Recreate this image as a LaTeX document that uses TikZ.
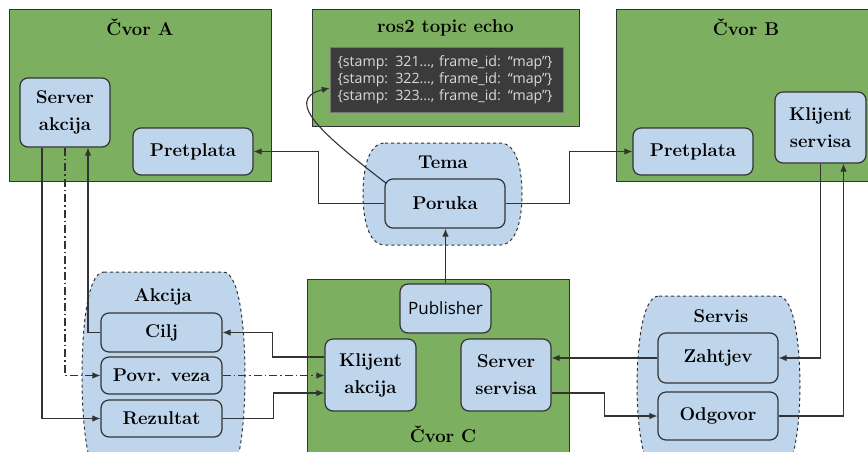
\documentclass[tikz,border=0pt]{standalone}
\usepackage{fontspec}
\newfontfamily\sansf{Open Sans}
\usetikzlibrary{arrows.meta,calc}
\definecolor{nodegreen}{HTML}{7DAF60}
\definecolor{boxblue}{HTML}{BED5EC}
\definecolor{edgecol}{HTML}{333333}
\definecolor{darkbg}{HTML}{3B3B3B}
\definecolor{lighttxt}{HTML}{D9D9D9}
\newcommand\boldf{\fontsize{18.5}{27}\selectfont\bfseries}
\newcommand\barrelshape[5]{% l t r b c
  \fill[boxblue] (#1+22,#2) -- (#3-22,#2) .. controls (#3-4,#2) and (#3,#2+#5) .. (#3,{(#2+#4)/2}) .. controls (#3,#4-#5) and (#3-4,#4) .. (#3-22,#4) -- (#1+22,#4) .. controls (#1+4,#4) and (#1,#4-#5) .. (#1,{(#2+#4)/2}) .. controls (#1,#2+#5) and (#1+4,#2) .. cycle;
  \draw[groupline] (#1+22,#2) -- (#3-22,#2) .. controls (#3-4,#2) and (#3,#2+#5) .. (#3,{(#2+#4)/2}) .. controls (#3,#4-#5) and (#3-4,#4) .. (#3-22,#4) -- (#1+22,#4) .. controls (#1+4,#4) and (#1,#4-#5) .. (#1,{(#2+#4)/2}) .. controls (#1,#2+#5) and (#1+4,#2) .. cycle;}
\begin{document}
\begin{tikzpicture}[x=1pt,y=-1pt,
  container/.style={draw=edgecol, fill=nodegreen, line width=0.9pt, inner sep=0pt},
  part/.style={draw=edgecol, fill=boxblue, rounded corners=8pt, line width=1.2pt, align=center, font=\boldf, inner sep=0pt},
  ttl/.style={anchor=base, font=\boldf, inner sep=0pt},
  groupline/.style={draw=edgecol, dashed, line width=1pt},
  conn/.style={draw=edgecol, line width=1.1pt, -{Latex[length=8pt,width=6.5pt]}},
  dashdotline/.style={dash pattern=on 8pt off 3pt on 1.5pt off 3pt}]
\useasboundingbox (0,0) rectangle (868,451);
\clip (0,0) rectangle (868,451);
\fill[white] (0,0) rectangle (868,451);

% containers
\node[container, minimum width=262pt, minimum height=172pt] (cA) at (140,95) {};
\node[container, minimum width=267pt, minimum height=117pt] (cE) at (445.5,67.5) {};
\node[container, minimum width=256pt, minimum height=172pt] (cB) at (744,95) {};
\node[container, minimum width=262pt, minimum height=191pt] (cC) at (438,374.5) {};

\node[ttl] (tA) at (140,35) {Čvor A};
\node[ttl] (tE) at (445.5,32) {ros2 topic echo};
\node[ttl] (tB) at (746,35) {Čvor B};
\node[ttl] (tC) at (443,442) {Čvor C};

% groups
\barrelshape{363}{143}{522}{245}{30}
\barrelshape{82}{272}{245}{480}{65}
\barrelshape{637}{296}{800}{474}{58}
\node[ttl] (tT) at (443,168) {Tema};
\node[ttl] (tAk) at (163,301) {Akcija};
\node[ttl] (tS) at (721,322) {Servis};

% echo box
\node[fill=darkbg, draw=darkbg!70, minimum width=233pt, minimum height=65pt, inner sep=0pt,
  text width=218pt, align=left, text=lighttxt, font=\sansf\fontsize{14.2}{17}\selectfont] (dark) at (446.5,79.5)
  {\{stamp: 321…, frame\_id: “map”\}\\\{stamp: 322…, frame\_id: “map”\}\\\{stamp: 323…, frame\_id: “map”\}};

% parts
\node[part, minimum width=90pt, minimum height=69pt] (sa) at (65,112.5) {Server\\akcija};
\node[part, minimum width=120pt, minimum height=47pt] (pa) at (193,151.5) {Pretplata};
\node[part, minimum width=120pt, minimum height=47pt] (pb) at (693,151.5) {Pretplata};
\node[part, minimum width=91pt, minimum height=71pt] (ks) at (820.5,127.5) {Klijent\\servisa};
\node[part, minimum width=120pt, minimum height=49pt] (por) at (445,203.5) {Poruka};
\node[part, minimum width=91pt, minimum height=49pt, font=\sansf\fontsize{17}{20}\selectfont] (pub) at (445.5,308.5) {Publisher};
\node[part, minimum width=91pt, minimum height=72pt] (ka) at (370.5,375) {Klijent\\akcija};
\node[part, minimum width=90pt, minimum height=72pt] (ss) at (506,375) {Server\\servisa};
\node[part, minimum width=121pt, minimum height=39pt] (cilj) at (161.5,332.5) {Cilj};
\node[part, minimum width=121pt, minimum height=37pt] (povr) at (161.5,375.5) {Povr. veza};
\node[part, minimum width=121pt, minimum height=37pt] (rez) at (161.5,418.5) {Rezultat};
\node[part, minimum width=120pt, minimum height=50pt] (zah) at (718,358) {Zahtjev};
\node[part, minimum width=120pt, minimum height=48pt] (odg) at (718,416) {Odgovor};

% connectors
\draw[conn] ([xshift=-23pt]sa.south) |- (rez.west);
\draw[conn, dashdotline] (sa.south) |- (povr.west);
\draw[conn] (cilj.west) -| ([xshift=23pt]sa.south);
\draw[conn] ([yshift=18pt]ka.west) -- ++(-52,0) |- (cilj.east);
\draw[conn, dashdotline] (povr.east) -- (povr.east -| ka.west);
\draw[conn] (rez.east) -- ++(51,0) |- ([yshift=-18pt]ka.west);
\draw[conn] (pub.north) -- (pub.north |- por.south);
\draw[conn] (por.west) -- ++(-66,0) |- (pa.east);
\draw[conn] (por.east) -- ++(64,0) |- (pb.west);
\draw[conn] ([xshift=2pt,yshift=-5pt]por.north west) .. controls (330,140) and (280,100) .. ([yshift=-8.5pt]dark.west);
\draw[conn] (ks.south) |- (zah.east);
\draw[conn] (odg.east) -| ([xshift=23pt]ks.south);
\draw[conn] (zah.west) -- (zah.west -| ss.east);
\draw[conn] ([yshift=-18pt]ss.east) -- ++(53,0) |- (odg.west);
\end{tikzpicture}
\end{document}
